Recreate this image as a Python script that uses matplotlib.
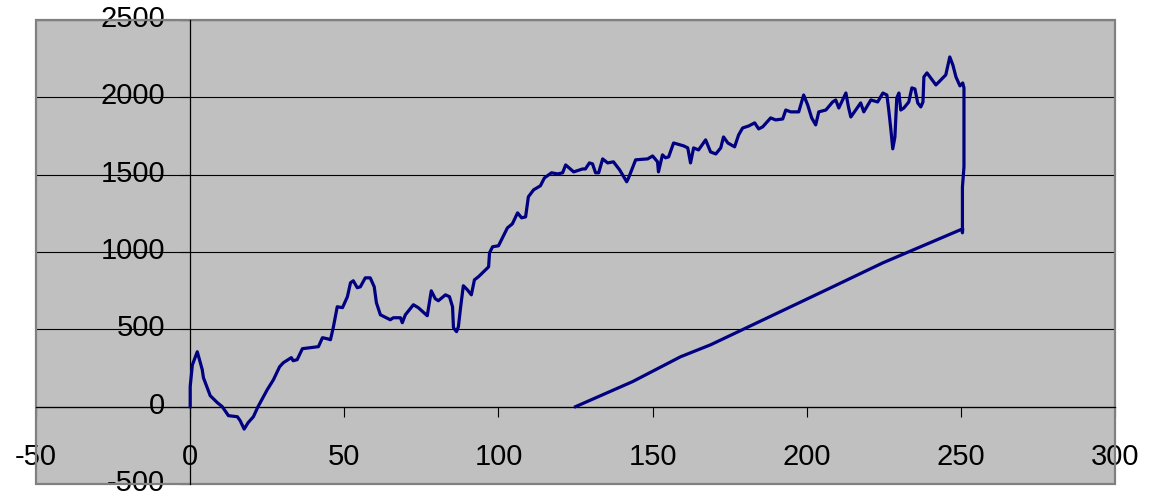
import matplotlib
matplotlib.use("Agg")
import matplotlib.pyplot as plt
from matplotlib.patches import Rectangle
from matplotlib.transforms import ScaledTranslation

plt.rcParams['font.family'] = ['Liberation Sans', 'DejaVu Sans']
plt.rcParams['axes.unicode_minus'] = False

# main series
x_main = [0, 0, 0.7, 2.3, 3.9, 4.3, 6.5, 8.8, 10.4, 12.4, 15.3, 16.2, 17.5, 18.8,
          20.5, 22, 25, 27, 29, 30.2, 32.8, 33.4, 34.7, 36.4, 41.6, 42.9, 44.5,
          45.5, 46.4, 47.7, 49.4, 51, 52, 52.9, 54.2, 55.2, 56.8, 58.4, 59.7, 60.4,
          61.7, 64.9, 65.9, 68.2, 68.8, 69.8, 72.4, 74, 76.9, 78.2, 79.5, 80.5,
          82.8, 84.1, 85.1, 85.4, 86.4, 87, 87.7, 88.6, 89.9, 91.2, 92.2, 93.5,
          96.8, 97.1, 98.1, 100, 102.9, 104.5, 106.2, 107.5, 108.8, 109.7, 111.4,
          113.6, 114.9, 117.2, 119.2, 120.8, 121.8, 124.4, 127.3, 128.2, 129.5,
          130.5, 131.5, 132.5, 133.8, 135.4, 137.3, 139.3, 141.6, 142.2, 144.5,
          148.4, 150, 151.6, 151.9, 153.2, 154.2, 155.2, 156.8, 160.1, 161.4,
          162.3, 163.3, 164.9, 167.2, 168.8, 170.5, 172.1, 173, 174.4, 176.6,
          177.9, 179.2, 181.2, 183.1, 184.4, 185.7, 188.3, 189.9, 192.2, 193.2,
          194.8, 197.4, 199, 200.3, 201.6, 202.9, 203.9, 206.2, 208.4, 209.4,
          210.4, 212.7, 213.6, 214.3, 215.9, 217.5, 218.5, 220.8, 223, 224.7, 226,
          226.6, 227.3, 227.9, 228.6, 229.2, 229.9, 230.5, 231.5, 233.1, 234.1,
          235.1, 236, 237, 237.7, 238, 239, 241.9, 245.1, 245.8, 246.4, 247.4,
          248.4, 249.7, 250.6, 251, 251, 250.5, 250.5]
y_main = [0, 130, 270, 355, 240, 187, 71, 26, 0, -58, -65, -90, -145, -103,
          -65, 0, 110, 174, 258, 284, 317, 297, 304, 375, 388, 446, 439,
          433, 510, 646, 640, 711, 801, 814, 769, 775, 833, 833, 775, 672,
          594, 562, 575, 575, 543, 594, 659, 640, 588, 749, 698, 685,
          723, 711, 646, 510, 485, 517, 640, 782, 756, 723, 820, 840,
          904, 995, 1034, 1040, 1156, 1182, 1253, 1221, 1227, 1357, 1402,
          1428, 1479, 1512, 1505, 1512, 1563, 1518, 1537, 1537, 1576,
          1570, 1512, 1512, 1602, 1576, 1583, 1531, 1454, 1479, 1596,
          1602, 1621, 1583, 1518, 1628, 1609, 1615, 1705, 1686, 1673,
          1576, 1673, 1660, 1725, 1647, 1634, 1673, 1744, 1705, 1680,
          1757, 1802, 1815, 1835, 1796, 1809, 1867, 1854, 1860, 1918,
          1906, 1906, 2015, 1951, 1867, 1822, 1906, 1918, 1970, 1983,
          1931, 2028, 1931, 1873, 1918, 1964, 1906, 1983, 1970, 2028, 2015,
          1918, 1789, 1667, 1744, 1996, 2028, 1918, 1931, 1970, 2061,
          2054, 1964, 1938, 1970, 2132, 2158, 2080, 2145, 2209, 2261, 2209,
          2132, 2074, 2093, 2061, 1550, 1420, 1124]

# the part that runs back down to (125, 0)
x_back = [250.6, 224.7, 207.8, 168.8, 159.1, 143.5, 125]
y_back = [1150, 930, 769, 400, 323, 162, 0]

x_ticks = list(range(-50, 301, 50))
y_ticks = list(range(-500, 2501, 500))

fig = plt.figure(figsize=(11.52, 4.95), dpi=100)
ax = fig.add_axes([0.0313, 0.0222, 0.9366, 0.9374])
ax.set_facecolor('#C0C0C0')

ax.plot(x_main + x_back, y_main + y_back, color='#000080', lw=2.3,
        solid_joinstyle='round', zorder=3)

ax.set_xlim(-50, 300)
ax.set_ylim(-500, 2500)
ax.set_xticks(x_ticks)
ax.set_yticks(y_ticks)

# axes cross at zero like the Excel chart
ax.spines['left'].set_position(('data', 0))
ax.spines['bottom'].set_position(('data', 0))
for s in ['left', 'bottom']:
    ax.spines[s].set_color('black')
    ax.spines[s].set_linewidth(0.9)
    ax.spines[s].set_zorder(2.5)
for s in ['top', 'right']:
    ax.spines[s].set_visible(False)

# grey plot-area border, kept under the tick labels
ax.add_patch(Rectangle((0, 0), 1, 1, transform=ax.transAxes, fill=False,
                       edgecolor='#808080', lw=1.6, clip_on=False, zorder=2.2))

ax.yaxis.grid(True, color='black', lw=0.8)
for gl in ax.get_ygridlines():
    gl.set_zorder(1)

ax.tick_params(axis='y', direction='out', length=7, width=0.8, pad=11, labelsize=21)
ax.tick_params(axis='x', direction='out', length=7, width=0.8, pad=19, labelsize=21)

# nudge y labels up a little so "-500" stays inside the figure
shift = ScaledTranslation(0, 3 / 72, fig.dpi_scale_trans)
for lbl in ax.get_yticklabels():
    lbl.set_transform(lbl.get_transform() + shift)

fig.savefig('out.png', dpi=100)
